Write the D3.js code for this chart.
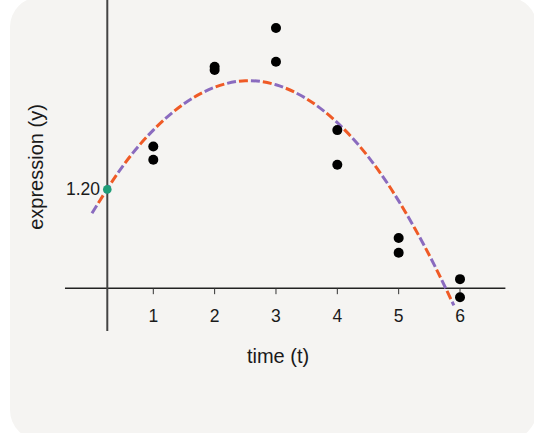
<!DOCTYPE html>
<html>
<head>
<meta charset="utf-8">
<script src="https://cdn.jsdelivr.net/npm/d3@7"></script>
<style>
  html, body { margin: 0; padding: 0; background: #ffffff; }
  svg { display: block; }
  text { font-family: "Liberation Sans", Arial, Helvetica, sans-serif; fill: #1a1a1a; }
</style>
</head>
<body>
<svg id="chart" width="534" height="433"></svg>
<script>
// ---- data ----
const timeTicks = [1, 2, 3, 4, 5, 6];
const obsTime   = [1, 1, 2, 2, 3, 3, 4, 4, 5, 5, 6, 6];
const obsValue  = [1.72, 1.56, 2.69, 2.65, 3.16, 2.75, 1.92, 1.50, 0.61, 0.43, 0.11, -0.11];
const fitTime   = [0.0, 0.5, 1.0, 1.5, 2.0, 2.5, 3.0, 3.5, 4.0, 4.5, 5.0, 5.5, 5.9];
const fitValue  = [0.91, 1.48, 1.92, 2.24, 2.44, 2.52, 2.47, 2.30, 2.01, 1.60, 1.06, 0.40, -0.21];
const interceptTime = 0.25;
const interceptValue = 1.20;
const interceptLabel = "1.20";
const xTitle = "time (t)";
const yTitle = "expression (y)";

// ---- layout ----
const svg = d3.select("#chart");
const x = d3.scaleLinear().domain([1, 6]).range([153.3, 460]);
const y = d3.scaleLinear().domain([-0.52, 3.5]).range([331, 0]);

// background panel
svg.append("rect")
  .attr("x", 10).attr("y", -3).attr("width", 527).attr("height", 443)
  .attr("rx", 30).attr("ry", 30)
  .attr("fill", "#f5f4f2");

// x axis line
svg.append("line")
  .attr("x1", x(-0.44)).attr("x2", x(6.74))
  .attr("y1", y(0)).attr("y2", y(0))
  .attr("stroke", "#222").attr("stroke-width", 1.5);

// ticks
svg.append("g").selectAll("line").data(timeTicks).join("line")
  .attr("x1", d => x(d)).attr("x2", d => x(d))
  .attr("y1", y(0)).attr("y2", y(0) + 6)
  .attr("stroke", "#333").attr("stroke-width", 1);

svg.append("g").selectAll("text").data(timeTicks).join("text")
  .attr("x", d => x(d)).attr("y", 322)
  .attr("text-anchor", "middle")
  .attr("font-size", 17.5)
  .text(d => d);

// y axis line
svg.append("line")
  .attr("x1", x(interceptTime)).attr("x2", x(interceptTime))
  .attr("y1", y(3.5)).attr("y2", y(-0.52))
  .attr("stroke", "#444").attr("stroke-width", 2);

// axis titles
svg.append("text")
  .attr("x", 278).attr("y", 363)
  .attr("text-anchor", "middle")
  .attr("font-size", 20)
  .text(xTitle);

svg.append("text")
  .attr("transform", "translate(43,167) rotate(-90)")
  .attr("text-anchor", "middle")
  .attr("font-size", 20)
  .text(yTitle);

// fitted curve (two interleaved dashed strokes)
const fitPts = fitTime.map((t, i) => [t, fitValue[i]]);
const line = d3.line().x(d => x(d[0])).y(d => y(d[1])).curve(d3.curveNatural);
svg.append("path")
  .attr("d", line(fitPts))
  .attr("fill", "none").attr("stroke", "#8a6bbf").attr("stroke-width", 3)
  .attr("stroke-dasharray", "9 15");
svg.append("path")
  .attr("d", line(fitPts))
  .attr("fill", "none").attr("stroke", "#ef5a26").attr("stroke-width", 3)
  .attr("stroke-dasharray", "9 15").attr("stroke-dashoffset", -12);

// observations
svg.append("g").selectAll("circle").data(obsTime.map((t, i) => [t, obsValue[i]])).join("circle")
  .attr("cx", d => x(d[0])).attr("cy", d => y(d[1]))
  .attr("r", 5).attr("fill", "#000");

// intercept point and label
svg.append("circle")
  .attr("cx", x(interceptTime)).attr("cy", y(interceptValue))
  .attr("r", 4.3).attr("fill", "#1f9e78");
svg.append("text")
  .attr("x", 100).attr("y", y(interceptValue) + 6)
  .attr("text-anchor", "end")
  .attr("font-size", 17.5)
  .text(interceptLabel);
</script>
</body>
</html>
